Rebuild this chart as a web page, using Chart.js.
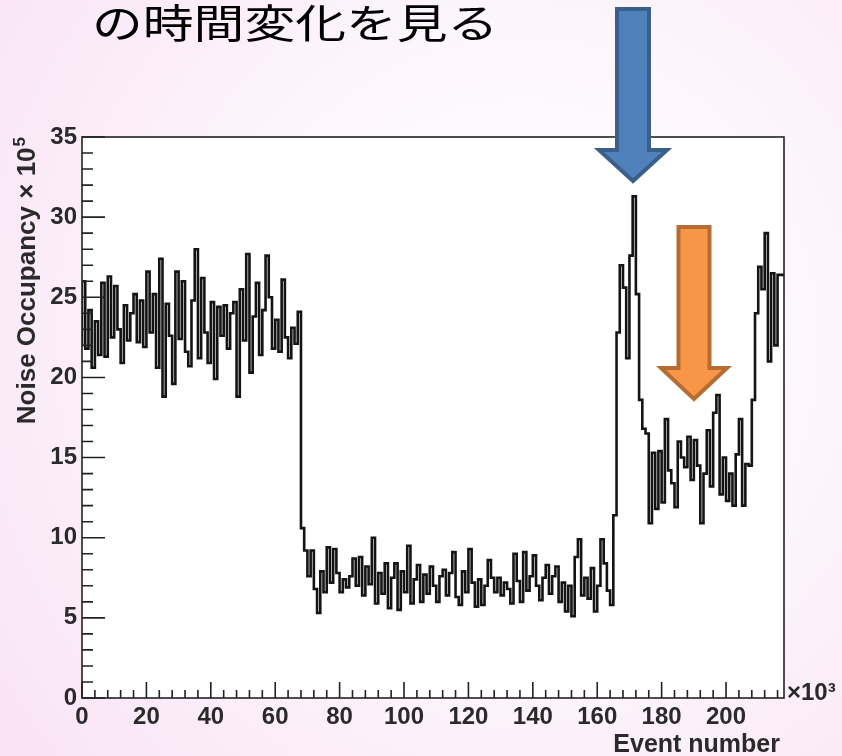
<!DOCTYPE html>
<html lang="ja">
<head>
<meta charset="utf-8">
<title>Noise Occupancy vs Event number</title>
<script src="https://cdn.jsdelivr.net/npm/chart.js@4.4.0/dist/chart.umd.min.js"></script>
<style>
  html, body { margin: 0; padding: 0; }
  body {
    width: 842px; height: 756px; overflow: hidden;
    background: radial-gradient(ellipse 75% 85% at 62% 45%, #ffffff 0%, #fdf7fc 45%, #f9e4f6 100%);
  }
  #wrap { position: relative; width: 842px; height: 756px; }
  #slide-title {
    position: absolute; left: 92px; top: 1px;
    font-family: "Noto Sans CJK JP", sans-serif; font-size: 40px; line-height: 40px;
    color: #000; white-space: nowrap;
    transform: scaleX(1.27); transform-origin: 0 0;
  }
  #arrows { position: absolute; left: 0; top: 0; pointer-events: none; }
  canvas { position: absolute; left: 0; top: 0; }
</style>
</head>
<body>
<div id="wrap">
  <canvas id="myChart" width="842" height="756"></canvas>
  <div id="slide-title">の時間変化を見る</div>
  <svg id="arrows" width="842" height="756">
    <polygon points="617,9 649,9 649,150 667,150 633,181 599,150 617,150"
      fill="#4f81bd" stroke="#3a5f8b" stroke-width="4" stroke-linejoin="miter"/>
    <polygon points="678.5,227 709.5,227 709.5,368 727,368 694,399 661,368 678.5,368"
      fill="#f79646" stroke="#b66d31" stroke-width="4" stroke-linejoin="miter"/>
  </svg>
</div>
<script>
/* data: one bin per 1 x 10^3 events */

const binWidth = 1
const xMax = 218

const occupancy = [
  // 0 - 68
  22.0, 26.0, 21.8, 24.2, 20.6, 23.5, 21.4, 25.9, 21.3, 26.3,
  22.5, 25.7, 23.0, 20.9, 24.5, 22.3, 24.0, 25.2, 22.2, 24.8,
  21.9, 26.6, 22.8, 25.2, 20.6, 27.4, 18.8, 24.6, 22.6, 19.6,
  26.6, 22.4, 26.0, 21.6, 20.7, 24.8, 28.0, 21.2, 26.2, 22.8,
  20.9, 24.7, 19.9, 24.4, 22.6, 24.5, 21.8, 24.0, 24.7, 18.8,
  25.5, 22.3, 27.7, 20.3, 23.8, 25.9, 21.4, 24.2, 27.6, 25.0,
  21.8, 23.6, 21.6, 26.1, 22.5, 21.2, 23.1, 22.1, 24.1,
  // 69 - 165
  10.6, 9.2, 7.6, 9.2, 6.8, 5.3, 7.9, 6.6, 9.4, 7.2,
  9.3, 7.8, 6.6, 7.4, 6.9, 7.6, 8.7, 7.0, 8.8, 6.4,
  8.2, 7.1, 10.0, 5.9, 7.8, 6.5, 8.4, 5.6, 7.5, 8.4,
  5.5, 7.9, 6.6, 9.5, 5.9, 7.4, 8.3, 6.0, 7.7, 6.5,
  8.2, 7.0, 6.0, 7.6, 8.0, 6.4, 7.8, 9.1, 6.3, 5.8,
  7.9, 6.6, 9.3, 7.2, 5.7, 7.4, 5.8, 7.0, 8.6, 7.5,
  6.6, 7.5, 6.4, 7.2, 6.8, 5.9, 9.0, 7.3, 6.0, 9.1,
  6.7, 7.6, 8.9, 7.0, 6.1, 7.5, 8.3, 6.5, 7.6, 8.2,
  6.0, 7.2, 5.4, 7.0, 5.1, 8.8, 9.9, 6.4, 7.5, 6.2,
  8.1, 5.4, 7.0, 9.9, 8.4, 6.7, 5.8,
  // 166 - 217
  11.4, 22.8, 27.0, 25.6, 21.2, 27.6, 31.3, 25.2, 18.6, 16.8,
  16.5, 10.9, 15.3, 11.8, 15.4, 12.2, 17.4, 14.2, 13.4, 11.9,
  16.0, 15.0, 14.4, 16.3, 13.6, 16.1, 14.5, 10.9, 14.0, 16.7,
  13.2, 17.8, 18.9, 12.7, 15.0, 12.3, 14.0, 12.0, 15.2, 17.4,
  12.0, 14.6, 14.5, 18.6, 24.0, 26.9, 25.5, 29.0, 21.0, 26.5,
  22.0, 26.4
]

const xTickValues = [0, 20, 40, 60, 80, 100, 120, 140, 160, 180, 200]
const yTickValues = [0, 5, 10, 15, 20, 25, 30, 35]

const xTitle = 'Event number'
const xUnit = '\u00d710\u00b3'
const yTitle = 'Noise Occupancy \u00d7 10'
const yTitleSup = '5'

// histogram points: bin i starts at i*binWidth, last point closes the final bin
const points = occupancy.map((v, i) => ({ x: i * binWidth, y: v }))
points.push({ x: occupancy.length * binWidth, y: occupancy[occupancy.length - 1] })

const labelFont = { family: 'Liberation Sans, Arial, sans-serif', size: 24, weight: 'bold' }
const textColor = '#2a2a2a'

/* ROOT-like frame, inside ticks and titles */
const rootFrame = {
  id: 'rootFrame',
  beforeDraw(chart) {
    const { ctx, chartArea: a } = chart
    ctx.save()
    ctx.fillStyle = '#ffffff'
    ctx.fillRect(a.left, a.top, a.right - a.left, a.bottom - a.top)
    ctx.restore()
  },
  afterDraw(chart) {
    const { ctx, chartArea: a, scales: { x, y } } = chart
    ctx.save()
    ctx.strokeStyle = '#222'
    ctx.lineWidth = 1.6
    ctx.strokeRect(a.left, a.top, a.right - a.left, a.bottom - a.top)

    ctx.beginPath()
    for (let v = y.min; v <= y.max; v += 1) {
      const py = y.getPixelForValue(v)
      const len = v % 5 === 0 ? 23 : 11
      ctx.moveTo(a.left, py)
      ctx.lineTo(a.left + len, py)
    }
    for (let v = x.min; v <= x.max; v += 4) {
      const px = x.getPixelForValue(v)
      const len = v % 20 === 0 ? 16 : 8
      ctx.moveTo(px, a.bottom)
      ctx.lineTo(px, a.bottom - len)
    }
    ctx.stroke()

    ctx.fillStyle = textColor
    ctx.font = 'bold 25px "Liberation Sans", Arial, sans-serif'

    // x title, right aligned to frame
    ctx.textAlign = 'right'
    ctx.textBaseline = 'alphabetic'
    ctx.fillText(xTitle, a.right - 4, 752)

    // x10^3 next to the axis end
    ctx.font = 'bold 24px "Liberation Sans", Arial, sans-serif'
    ctx.textAlign = 'left'
    ctx.fillText(xUnit, a.right + 3, a.bottom + 2)

    // y title, rotated, ending at the top of the frame
    ctx.translate(28, a.top)
    ctx.rotate(-Math.PI / 2)
    ctx.textBaseline = 'middle'
    ctx.font = 'bold 17px "Liberation Sans", Arial, sans-serif'
    const supW = ctx.measureText(yTitleSup).width
    ctx.textAlign = 'right'
    ctx.fillText(yTitleSup, 0, -8)
    ctx.font = 'bold 26px "Liberation Sans", Arial, sans-serif'
    ctx.fillText(yTitle, -supW - 1, 0)
    ctx.restore()
  }
}

const ctx = document.getElementById('myChart').getContext('2d')
const myChart = new Chart(ctx, {
  type: 'line',
  data: {
    datasets: [{
      label: 'Noise Occupancy',
      data: points,
      stepped: 'after',
      borderColor: '#141414',
      borderWidth: 2.6,
      pointRadius: 0,
      fill: false
    }]
  },
  options: {
    responsive: false,
    animation: false,
    devicePixelRatio: 1,
    layout: { padding: { top: 137, right: 58, left: 0, bottom: 0 } },
    plugins: {
      legend: { display: false },
      tooltip: { enabled: false }
    },
    scales: {
      x: {
        type: 'linear',
        min: 0,
        max: xMax,
        afterFit: (s) => { s.height = 58 },
        afterBuildTicks: (s) => { s.ticks = xTickValues.map(v => ({ value: v })) },
        grid: { display: false, drawTicks: false },
        border: { display: false },
        ticks: { font: labelFont, color: textColor, padding: 5, maxRotation: 0, autoSkip: false }
      },
      y: {
        min: 0,
        max: 35,
        afterFit: (s) => { s.width = 82 },
        afterBuildTicks: (s) => { s.ticks = yTickValues.map(v => ({ value: v })) },
        grid: { display: false, drawTicks: false },
        border: { display: false },
        ticks: { font: labelFont, color: textColor, padding: 5 }
      }
    }
  },
  plugins: [rootFrame]
})
</script>
</body>
</html>
